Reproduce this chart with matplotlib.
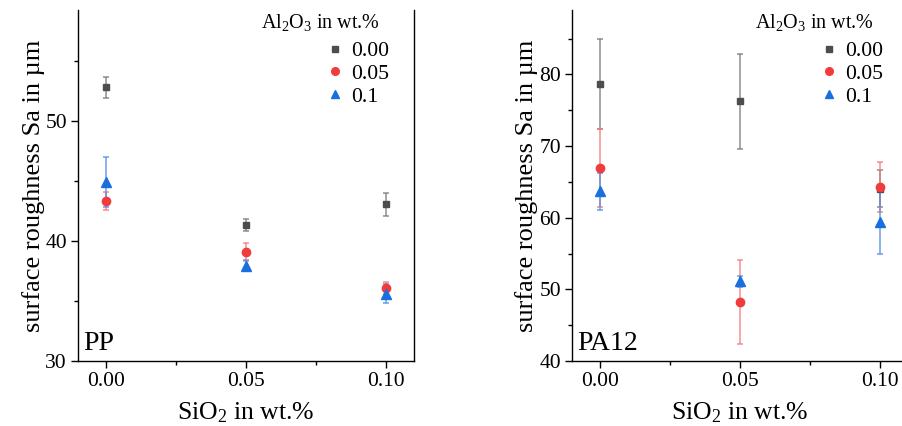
import matplotlib
matplotlib.use("Agg")
import matplotlib.pyplot as plt
from matplotlib.lines import Line2D
from matplotlib.ticker import MultipleLocator

plt.rcParams["font.family"] = ["Liberation Serif", "DejaVu Serif"]
plt.rcParams["mathtext.fontset"] = "custom"
plt.rcParams["mathtext.rm"] = "Liberation Serif"
plt.rcParams["mathtext.it"] = "Liberation Serif:italic"

# SiO2 content (x positions)
sio2 = [0.00, 0.05, 0.10]
al2o3_labels = ["0.00", "0.05", "0.1"]

# PP panel: means and errors per Al2O3 content
pp_mean = [
    [52.8, 41.35, 43.05],
    [43.35, 39.1, 36.1],
    [44.9, 37.95, 35.6],
]
pp_err = [
    [0.85, 0.5, 0.95],
    [0.75, 0.75, 0.5],
    [2.1, 0.45, 0.8],
]

# PA12 panel
pa_mean = [
    [78.7, 76.25, 64.05],
    [66.95, 48.25, 64.3],
    [63.7, 51.1, 59.45],
]
pa_err = [
    [6.3, 6.65, 2.55],
    [5.5, 5.9, 3.45],
    [2.6, 0.8, 4.45],
]

colors = ["#4d4d4d", "#f03c3c", "#1a6fdf"]
err_colors = ["#7a7a7a", "#f47a7a", "#4f8fe6"]
markers = ["s", "o", "^"]
msizes = [5, 6, 6.5]

fig = plt.figure(figsize=(9.03, 4.26), dpi=100)
ax1 = fig.add_axes([78 / 903, 65 / 426, 336 / 903, 351 / 426])
ax2 = fig.add_axes([572 / 903, 65 / 426, 336 / 903, 351 / 426])


def draw_panel(ax, means, errs, ylim, major, name):
    for i in range(3):
        ax.errorbar(sio2, means[i], yerr=errs[i], fmt="none",
                    ecolor=err_colors[i], elinewidth=1.1, capsize=2.5,
                    capthick=1.1, alpha=0.85, zorder=2 + i)
        ax.plot(sio2, means[i], linestyle="none", marker=markers[i],
                ms=msizes[i], color=colors[i], zorder=5 + i)
    ax.set_xlim(-0.01, 0.11)
    ax.set_ylim(*ylim)
    ax.set_xticks(sio2)
    ax.set_xticklabels(["0.00", "0.05", "0.10"])
    ax.xaxis.set_minor_locator(MultipleLocator(0.025))
    ax.yaxis.set_major_locator(MultipleLocator(major))
    ax.yaxis.set_minor_locator(MultipleLocator(major / 2))
    ax.spines["top"].set_visible(False)
    for s in ax.spines.values():
        s.set_linewidth(1.0)
    ax.tick_params(which="major", direction="out", length=5, width=1,
                   labelsize=15.5, pad=3)
    ax.tick_params(which="minor", direction="out", length=3, width=1)
    ax.set_xlabel("SiO$_2$ in wt.%", fontsize=18.5, labelpad=7)
    ax.set_ylabel("surface roughness Sa in µm", fontsize=19, labelpad=0.5)
    ax.text(0.015, 0.015, name, transform=ax.transAxes, fontsize=20,
            ha="left", va="bottom")
    ax.text(0.898, 0.963, "Al$_2$O$_3$ in wt.%", transform=ax.transAxes,
            fontsize=14.5, ha="right", va="center")
    handles = [Line2D([], [], linestyle="none", marker=markers[i],
                      ms=msizes[i] - 0.5, color=colors[i]) for i in range(3)]
    ax.legend(handles, al2o3_labels, loc="upper left",
              bbox_to_anchor=(0.745, 0.912), frameon=False, fontsize=15.7,
              handlelength=0.6, handletextpad=0.45, labelspacing=0.12,
              borderpad=0, borderaxespad=0)


draw_panel(ax1, pp_mean, pp_err, (30, 59.25), 10, "PP")
draw_panel(ax2, pa_mean, pa_err, (40, 89), 10, "PA12")

fig.savefig("out.png", dpi=100)
